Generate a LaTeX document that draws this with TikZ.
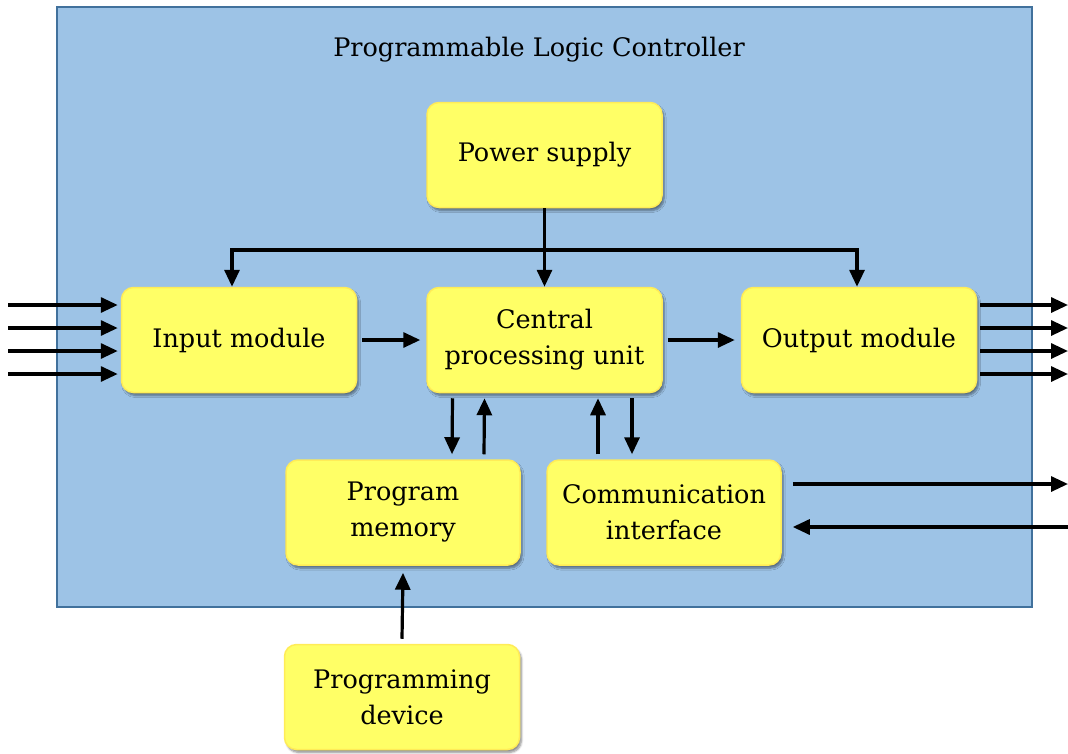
\documentclass[tikz,border=0pt]{standalone}
\usepackage{fontspec}
\setmainfont{DejaVu Serif}
\usetikzlibrary{arrows.meta,shadows.blur}
\definecolor{plcblue}{HTML}{9DC3E6}
\definecolor{plcedge}{HTML}{41719C}
\definecolor{boxyellow}{HTML}{FFFF66}
\tikzset{
  x=1pt, y=-1pt,
  block/.style={draw=boxyellow!85!orange, line width=1.5pt, fill=boxyellow,
    rounded corners=12pt, minimum width=235pt, minimum height=105pt,
    align=center, font=\fontsize{25.5}{36}\selectfont,
    blur shadow={shadow xshift=2pt, shadow yshift=-3pt, shadow blur steps=6, shadow opacity=45}},
  wire/.style={line width=3.2pt},
  link/.style={wire, -{Triangle[length=17pt,width=15pt]}},
}
\begin{document}
\begin{tikzpicture}
\useasboundingbox (0,0) rectangle (1068,753);
% controller enclosure
\node[draw=plcedge, line width=1.5pt, fill=plcblue, minimum width=975pt, minimum height=600pt, inner sep=0pt] (plc) at (544.5,307) {};
\node[font=\fontsize{25.5}{30}\selectfont] (title) at (539,50) {Programmable Logic Controller};

% blocks
\node[block] (psu) at (544.5,155) {Power supply};
\node[block] (in)  at (239,340) {Input module};
\node[block] (cpu) at (544.5,340) {Central\\processing unit};
\node[block] (out) at (859,340) {Output module};
\node[block, minimum width=234pt] (mem) at (403,512.5) {Program\\memory};
\node[block, minimum width=234pt] (com) at (664,512.5) {Communication\\interface};
\node[block] (dev) at (402,697) {Programming\\device};

% power distribution
\coordinate (bus) at (544.5,250);
\coordinate (busL) at (232,250);
\coordinate (busR) at (857,250);
\draw[wire] (psu.south) -- (bus);
\draw[wire, line cap=rect] (busL) -- (busR);
\draw[link] (bus) -- (cpu.north);
\draw[link] (busL) -- (busL |- in.north);
\draw[link] (busR) -- (busR |- out.north);

% data path
\draw[link] ([xshift=5pt]in.east) -- ([xshift=-6pt]cpu.west);
\draw[link] ([xshift=5pt]cpu.east) -- ([xshift=-6pt]out.west);

% memory and communication links
\draw[link] ([xshift=-92pt,yshift=-5pt]cpu.south) -- ([xshift=49pt,yshift=5pt]mem.north);
\draw[link] ([xshift=81pt,yshift=5pt]mem.north) -- ([xshift=-60pt,yshift=-5pt]cpu.south);
\draw[link] ([xshift=-66pt,yshift=5pt]com.north) -- ([xshift=53.5pt,yshift=-5pt]cpu.south);
\draw[link] ([xshift=87.5pt,yshift=-5pt]cpu.south) -- ([xshift=-32pt,yshift=5pt]com.north);
\draw[link] ([yshift=5pt]dev.north) -- ([yshift=-7pt]mem.south);

% field signals
\foreach \yy [count=\i] in {305,328,351,374}{
  \coordinate (src\i) at (8,\yy);
  \coordinate (dst\i) at (1068,\yy);
  \draw[link] (src\i) -- ([xshift=-3pt]in.west |- src\i);
  \draw[link] ([xshift=3pt]out.east |- dst\i) -- (dst\i);
}
\coordinate (netA) at (1068,484);
\coordinate (netB) at (1068,527);
\draw[link] ([xshift=11pt]com.east |- netA) -- (netA);
\draw[link] (netB) -- ([xshift=11pt]com.east |- netB);
\end{tikzpicture}
\end{document}
